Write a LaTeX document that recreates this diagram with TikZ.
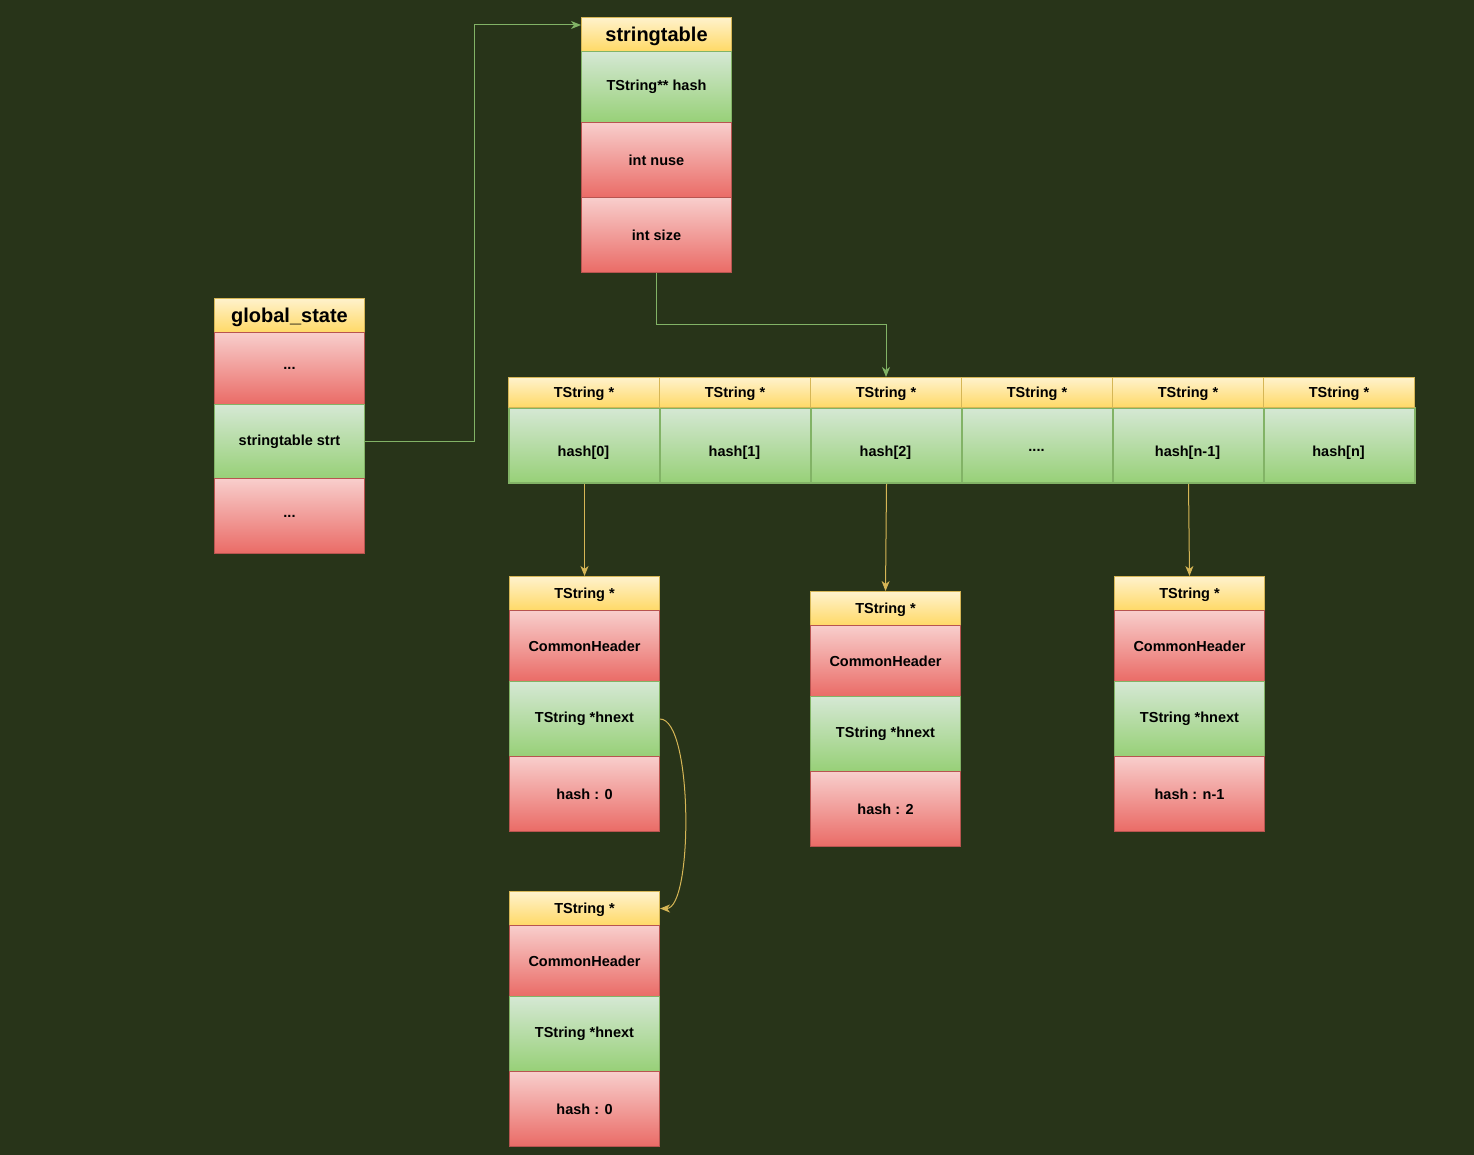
\documentclass[tikz,border=0pt]{standalone}
\usepackage{fontspec}
\setmainfont{Liberation Sans}
\usetikzlibrary{arrows.meta}
\definecolor{bg}{RGB}{40,52,25}
\definecolor{ytop}{HTML}{FFF2CC}
\definecolor{ybot}{HTML}{FFD966}
\definecolor{ybd}{HTML}{D6B656}
\definecolor{rtop}{HTML}{F8CECC}
\definecolor{rbot}{HTML}{EA6B66}
\definecolor{rbd}{HTML}{B85450}
\definecolor{gtop}{HTML}{D5E8D4}
\definecolor{gbot}{HTML}{97D077}
\definecolor{gbd}{HTML}{82B366}
\tikzset{
  cell/.style={anchor=north west, inner sep=0pt, minimum width=150pt, line width=1pt,
    font=\fontsize{14.5}{17}\selectfont\bfseries, text=black},
  ycell/.style={cell, draw=ybd, top color=ytop, bottom color=ybot, text depth=0pt},
  rcell/.style={cell, draw=rbd, top color=rtop, bottom color=rbot},
  gcell/.style={cell, draw=gbd, top color=gtop, bottom color=gbot},
  bigtitle/.style={font=\fontsize{20}{24}\selectfont\bfseries},
  lbl/.style={inner sep=0pt, font=\fontsize{14.5}{17}\selectfont\bfseries, text=black},
  garrow/.style={draw=gbd, line width=1pt, -{Stealth[length=10pt,width=8pt,inset=3pt]}},
  yarrow/.style={draw=ybd, line width=1pt, -{Stealth[length=10pt,width=8pt,inset=3pt]}}
}
\begin{document}
\begin{tikzpicture}[x=1pt,y=-1pt]
\fill[bg] (0,0) rectangle (1474,1155);
\useasboundingbox (0,0) rectangle (1474,1155);

% stringtable
\node[ycell, minimum height=34pt, bigtitle] (st) at (581,17) {stringtable};
\node[gcell, minimum height=71pt] (sth) at (581,51) {TString** hash};
\node[rcell, minimum height=75pt] (stn) at (581,122) {int nuse};
\node[rcell, minimum height=75pt] (sts) at (581,197) {int size};

% global_state
\node[ycell, minimum height=34pt, bigtitle] (gs) at (214,298) {global\_state};
\node[rcell, minimum height=72pt] (gs1) at (214,332) {...};
\node[gcell, minimum height=74pt] (gs2) at (214,404) {stringtable strt};
\node[rcell, minimum height=75pt] (gs3) at (214,478) {...};

% hash array
\foreach \i in {0,...,5}{
  \node[gcell, minimum width=151pt, minimum height=75pt, line width=2pt] (hb\i) at (508+151*\i,407) {};
  \node[ycell, minimum width=151pt, minimum height=30pt] (hh\i) at (508+151*\i,377) {TString *};
}
\node[lbl] (hl0) at (583.5,453) {hash[0]};
\node[lbl] (hl1) at (734.5,453) {hash[1]};
\node[lbl] (hl2) at (885.5,453) {hash[2]};
\node[lbl, anchor=base] (hl3) at (1036.5,451) {....};
\node[lbl] (hl4) at (1187.5,453) {hash[n-1]};
\node[lbl] (hl5) at (1338.5,453) {hash[n]};

% TString boxes
\foreach \n/\x/\y/\h in {a/509/576/0, b/810/591/2, c/1114/576/n-1, d/509/891/0}{
  \node[ycell, minimum height=34pt] (t\n0) at (\x,\y) {TString *};
  \node[rcell, minimum height=71pt] (t\n1) at (\x,\y+34) {CommonHeader};
  \node[gcell, minimum height=75pt] (t\n2) at (\x,\y+105) {TString *hnext};
  \node[rcell, minimum height=75pt] (t\n3) at (\x,\y+180) {hash : \h};
}

% connectors
\draw[garrow] (gs2.east) -- ++(109,0) |- ([yshift=-8pt]st.north west);
\draw[garrow] (sts.south) -- ++(0,52) -| (hh2.north);
\draw[yarrow] (hb0.south) -- (ta0.north);
\draw[yarrow] (hb2.south) -- (tb0.north);
\draw[yarrow] (hb4.south) -- (tc0.north);
\draw[yarrow] (ta2.east) to[out=0,in=0,looseness=0.45] (td0.east);
\end{tikzpicture}
\end{document}
